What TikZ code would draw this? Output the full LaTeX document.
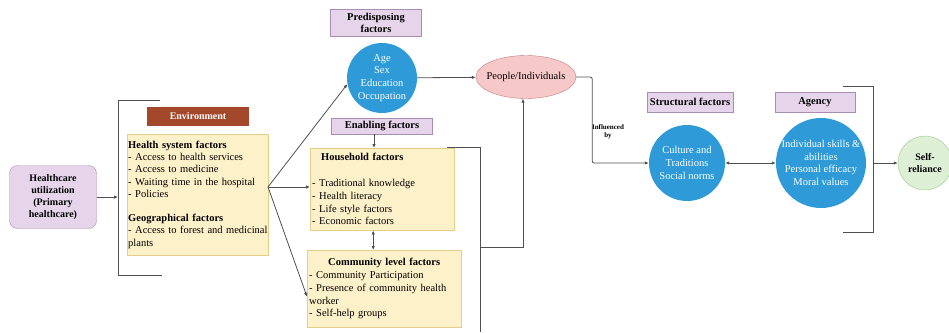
\documentclass[tikz,border=0pt]{standalone}
\usepackage{fontspec}
\setmainfont{Liberation Serif}
\usetikzlibrary{arrows.meta,shapes.geometric,positioning}
\definecolor{lilacfill}{HTML}{E6D5EA}
\definecolor{lilacline}{HTML}{A98DB3}
\definecolor{rustfill}{HTML}{A4482B}
\definecolor{creamfill}{HTML}{FDF1C9}
\definecolor{creamline}{HTML}{E5CD8C}
\definecolor{circblue}{HTML}{2E9BD8}
\definecolor{pinkfill}{HTML}{F6C8C8}
\definecolor{pinkline}{HTML}{C47C7C}
\definecolor{greenfill}{HTML}{DDEFD5}
\definecolor{greenline}{HTML}{9DC68B}
\definecolor{linkgray}{HTML}{505050}
\tikzset{
  headbox/.style={draw=lilacline, fill=lilacfill, font=\bfseries\fontsize{10.5}{12.5}\selectfont, align=center, inner sep=1pt},
  factorbox/.style={draw=creamline, fill=creamfill, align=left, anchor=north west, inner sep=2pt},
  bluedisc/.style={circle, fill=circblue, text=white, align=center, inner sep=-1pt},
  link/.style={draw=linkgray, line width=0.8pt, -{Latex[length=4pt,width=3.5pt]}},
  twolink/.style={link, {Latex[length=4pt,width=3.5pt]}-{Latex[length=4pt,width=3.5pt]}},
  frame/.style={draw=linkgray, line width=0.8pt}
}
\begin{document}
\begin{tikzpicture}[x=1pt,y=-1pt,font=\fontsize{10.5}{12.8}\selectfont]
\useasboundingbox (0,0) rectangle (949,332);

% healthcare utilization and environment
\node[draw=lilacline, fill=lilacfill, rounded corners=8pt, minimum width=87pt, minimum height=63pt, font=\bfseries, align=center] (hcu) at (53,197) {Healthcare\\utilization\\(Primary\\healthcare)};
\coordinate (envin) at (118,197);
\draw[frame] (160,100) -| (118,275) -- (162,275);
\draw[link] (hcu) -- (envin);
\node[fill=rustfill, text=white, font=\bfseries\fontsize{10}{12}\selectfont, minimum width=102pt, minimum height=19pt] (env) at (198,116) {Environment};
\node[factorbox, text width=139pt, inner sep=1pt, minimum height=121pt, font=\fontsize{10.5}{12.2}\selectfont] (hsf) at (127,134) {\textbf{Health system factors}\\- Access to health services\\- Access to medicine\\- Waiting time in the hospital\\- Policies\\[12.2pt]\textbf{Geographical factors}\\\mbox{- Access to forest and medicinal}\\plants};
\coordinate (fork) at (268,187);

% predisposing and enabling factors
\node[headbox, minimum width=91pt, minimum height=27pt] (pred) at (376,23) {Predisposing\\factors};
\node[bluedisc, minimum size=70pt] (age) at (382,78) {Age\\Sex\\Education\\Occupation};
\node[ellipse, draw=pinkline, fill=pinkfill, minimum width=92pt, minimum height=43pt, inner sep=-4pt] (people) at (526,77) {People/Individuals};
\draw[link] (age) -- (people);

\node[headbox, minimum width=101pt, minimum height=16pt] (enab) at (382,126) {Enabling factors};
\node[factorbox, text width=140pt, minimum height=82pt] (house) at (310,148) {\hspace*{9pt}\textbf{Household factors}\\[12.8pt]- Traditional knowledge\\- Health literacy\\- Life style factors\\- Economic factors};
\node[factorbox, text width=150pt, minimum height=77pt] (comm) at (307,250) {\makebox[\hsize]{\textbf{Community level factors}}\\- Community Participation\\- Presence of community health worker\\- Self-help groups};
\draw[link] ([xshift=-8pt]enab.south) -- ([xshift=-8pt]enab.south |- house.north);
\draw[twolink] ([xshift=-9pt]house.south) -- ([xshift=-9pt]house.south |- comm.north);

\draw[link] (fork) -- (age.190);
\draw[link] (fork) -- (fork -| house.west);
\draw[link] (fork) -- ([yshift=-8pt]comm.west);

\draw[frame] (447,147) -| (480,332);
\coordinate (hbr) at (480,247);
\draw[link] (hbr) -| ([xshift=-3pt]people.south);

% structural factors and agency
\node[font=\bfseries\fontsize{7}{8}\selectfont, align=center] (infl) at (608,132) {Influenced\\by};
\node[headbox, minimum width=86pt, minimum height=20pt] (struct) at (690,102) {Structural factors};
\node[headbox, minimum width=80pt, minimum height=20pt] (agen) at (815,102) {Agency};
\node[bluedisc, minimum size=76pt] (cult) at (687,163) {Culture and\\Traditions\\Social norms};
\node[bluedisc, minimum size=90pt, inner sep=-5pt] (agency) at (821,163) {Individual skills \&\\abilities\\Personal efficacy\\Moral values};
\draw[link, rounded corners=2pt] (people.east) -- ++(16,0) |- (cult.west);
\draw[twolink] (cult) -- (agency);

\draw[frame] (843,86) -| (873,232) -- (843,232);
\coordinate (agout) at (873,163);
\node[circle, draw=greenline, fill=greenfill, minimum size=54pt, inner sep=0pt, font=\bfseries, align=center] (self) at (925,163) {Self-\\reliance};
\draw[link] (agout) -- (self);
\end{tikzpicture}
\end{document}
